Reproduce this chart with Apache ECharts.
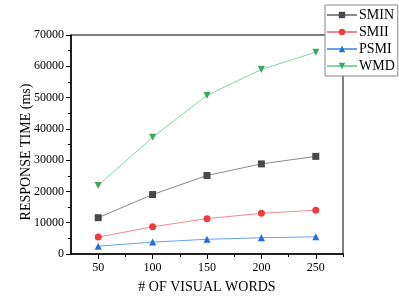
<!DOCTYPE html>
<html><head><meta charset="utf-8">
<script src="https://cdn.jsdelivr.net/npm/echarts@6/dist/echarts.min.js"></script>
<style>html,body{margin:0;padding:0;background:#fff}#c{width:399px;height:305px}</style>
</head><body><div id="c"></div>
<script>
const words = [50, 100, 150, 200, 250];
const smin = [11600, 19000, 25100, 28800, 31200];
const smii = [5400, 8700, 11300, 13000, 14000];
const psmi = [2500, 3800, 4700, 5200, 5500];
const wmd = [21900, 37300, 50700, 59000, 64500];
const xMajor = [50, 100, 150, 200, 250];
const xMinor = [75, 125, 175, 225, 275];
const yTitle = 'RESPONSE TIME (ms)';

const font = 'Liberation Serif, Times New Roman, serif';
function pts(v){ return words.map((w,i)=>[w, v[i]]); }
function mk(name, data, color, lineColor, symbol, rot){
  return {name, type:'line', data:pts(data), symbol, symbolSize:7, symbolRotate:rot||0,
    itemStyle:{color}, lineStyle:{color:lineColor, width:1}, emphasis:{disabled:true}};
}
const chart = echarts.init(document.getElementById('c'));
chart.setOption({
  animation:false,
  textStyle:{fontFamily:font},
  grid:{left:71, right:56, top:35, bottom:51, show:true, borderColor:'#000', borderWidth:1, backgroundColor:'transparent'},
  graphic:[{type:'text', x:26, y:152, rotation:Math.PI/2,
    style:{text:yTitle, fontFamily:font, fontSize:14, fill:'#000', align:'center', verticalAlign:'middle'}}],
  legend:{orient:'vertical', left:325, top:5, itemWidth:30, itemHeight:8, itemGap:3,
    backgroundColor:'#fff', borderColor:'#888', borderWidth:1, padding:[3,3,3,1],
    textStyle:{fontFamily:font, fontSize:14, color:'#000', padding:[0,0,0,-3]},
    data:['SMIN','SMII','PSMI','WMD']},
  xAxis:[{type:'value', min:25, max:275, position:'bottom',
    name:'# OF VISUAL WORDS', nameLocation:'middle', nameGap:26,
    nameTextStyle:{fontFamily:font, fontSize:14, color:'#000'},
    axisLine:{lineStyle:{color:'#000', width:1.5}},
    axisTick:{customValues:xMajor, length:5, inside:false, lineStyle:{color:'#000'}},
    axisLabel:{customValues:xMajor, fontFamily:font, fontSize:12, color:'#000', margin:8},
    splitLine:{show:false}},
   {type:'value', min:25, max:275, position:'bottom',
    axisLine:{show:false},
    axisTick:{customValues:xMinor, length:3, lineStyle:{color:'#000'}},
    axisLabel:{show:false}, splitLine:{show:false}}],
  yAxis:{type:'value', min:0, max:70000, interval:10000,
    axisLine:{show:true, lineStyle:{color:'#000', width:1.5}},
    axisTick:{show:true, length:5, lineStyle:{color:'#000'}},
    minorTick:{show:true, splitNumber:2, length:3, lineStyle:{color:'#000'}},
    axisLabel:{fontFamily:font, fontSize:12, color:'#000', margin:7, formatter:v=>String(v)},
    splitLine:{show:false}},
  series:[
    mk('SMIN', smin, '#4a4a4a', '#8a8a8a', 'rect'),
    mk('SMII', smii, '#f03c3c', '#f08a8a', 'circle'),
    mk('PSMI', psmi, '#1f6fdc', '#6aa0ea', 'triangle'),
    mk('WMD', wmd, '#3aa860', '#86d4a0', 'triangle', 180)
  ]
});
</script></body></html>
